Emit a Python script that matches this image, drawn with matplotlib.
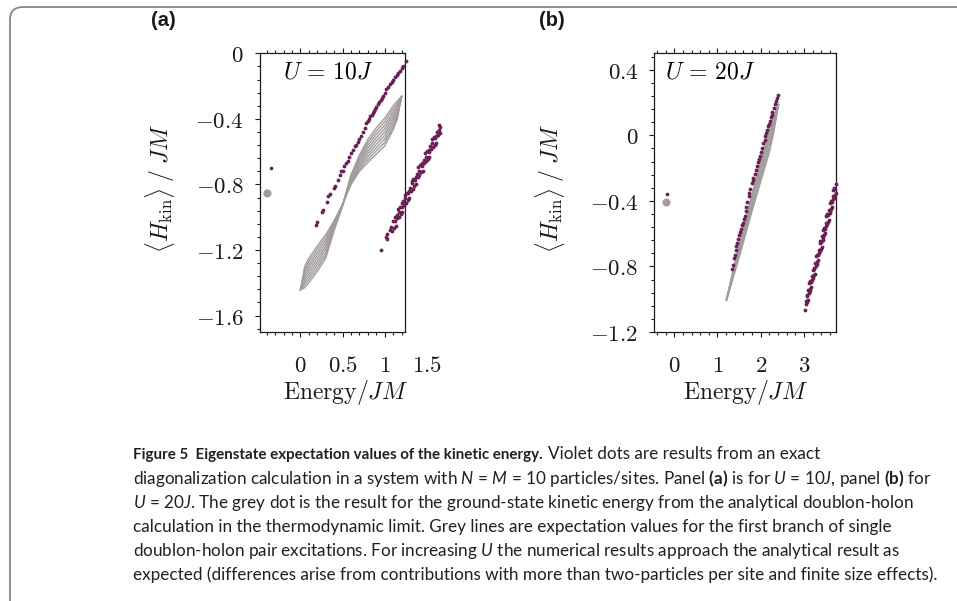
import matplotlib
matplotlib.use('Agg')
import matplotlib.pyplot as plt
from matplotlib import transforms
from matplotlib.patches import FancyBboxPatch
from matplotlib.ticker import MultipleLocator

plt.rcParams['mathtext.fontset'] = 'cm'
plt.rcParams['mathtext.rm'] = 'Lato'
plt.rcParams['mathtext.it'] = 'Lato:italic'
plt.rcParams['mathtext.bf'] = 'Lato:bold'

PURPLE = '#6a1f55'
GREY = '#a29c9c'
INK = '#1a1a1a'

# ---------------- Panel (a): U = 10J ----------------
grey_dot_a = (-0.40, -0.855)
small_dot_a = (-0.345, -0.70)

xg_a = [0, 0.05, 0.1, 0.2, 0.3, 0.4, 0.5, 0.6, 0.7, 0.8, 0.9, 1.0, 1.1, 1.15, 1.2]
ga0 = [-1.443, -1.30, -1.25, -1.175, -1.105, -1.02, -0.92, -0.80, -0.72, -0.665, -0.615, -0.565, -0.466, -0.40, -0.263]
ga1 = [-1.443, -1.316, -1.269, -1.194, -1.123, -1.028, -0.921, -0.793, -0.708, -0.648, -0.595, -0.544, -0.448, -0.386, -0.263]
ga2 = [-1.443, -1.333, -1.288, -1.214, -1.141, -1.035, -0.923, -0.785, -0.695, -0.63, -0.575, -0.523, -0.43, -0.373, -0.263]
ga3 = [-1.443, -1.349, -1.306, -1.233, -1.159, -1.043, -0.924, -0.778, -0.683, -0.613, -0.555, -0.501, -0.411, -0.359, -0.263]
ga4 = [-1.443, -1.365, -1.325, -1.253, -1.178, -1.05, -0.925, -0.77, -0.67, -0.595, -0.535, -0.48, -0.393, -0.345, -0.263]
ga5 = [-1.443, -1.381, -1.344, -1.272, -1.196, -1.058, -0.926, -0.763, -0.658, -0.578, -0.515, -0.459, -0.375, -0.331, -0.263]
ga6 = [-1.443, -1.398, -1.363, -1.291, -1.214, -1.065, -0.928, -0.755, -0.645, -0.56, -0.495, -0.438, -0.357, -0.318, -0.263]
ga7 = [-1.443, -1.414, -1.381, -1.311, -1.232, -1.073, -0.929, -0.748, -0.633, -0.543, -0.475, -0.416, -0.338, -0.304, -0.263]
ga8 = [-1.443, -1.43, -1.40, -1.33, -1.25, -1.08, -0.93, -0.74, -0.62, -0.525, -0.455, -0.395, -0.32, -0.29, -0.263]

pa1_x = [0.19, 0.20, 0.26, 0.27, 0.316, 0.328, 0.35, 0.40, 0.41, 0.45, 0.466, 0.486, 0.50, 0.52,
         0.545, 0.56, 0.58, 0.605, 0.62, 0.645, 0.66, 0.68, 0.70, 0.72, 0.74, 0.76, 0.78, 0.80,
         0.81, 0.83, 0.845, 0.86, 0.875, 0.89, 0.90, 0.92, 0.935, 0.95, 0.965, 0.98, 1.00, 1.02,
         1.04, 1.06, 1.08, 1.10, 1.12, 1.14, 1.16, 1.18, 1.20, 1.22, 1.257]
pa1_y = [-1.05, -1.03, -0.965, -0.955, -0.904, -0.873, -0.86, -0.82, -0.81, -0.77, -0.74, -0.72, -0.715, -0.69,
         -0.67, -0.655, -0.63, -0.61, -0.59, -0.567, -0.557, -0.54, -0.525, -0.507, -0.48, -0.455, -0.425, -0.41,
         -0.40, -0.385, -0.375, -0.364, -0.35, -0.34, -0.33, -0.31, -0.295, -0.285, -0.275, -0.263, -0.24, -0.22,
         -0.205, -0.19, -0.175, -0.16, -0.145, -0.133, -0.12, -0.105, -0.09, -0.079, -0.049]

pa2_x = [0.952, 1.02, 1.025, 1.03, 1.06, 1.075, 1.09,
         1.10, 1.11, 1.12, 1.13, 1.14, 1.15, 1.16, 1.17, 1.18, 1.19, 1.20, 1.21, 1.22, 1.23, 1.24, 1.25,
         1.26, 1.27, 1.28, 1.29, 1.30, 1.31, 1.32, 1.33, 1.34, 1.35, 1.36, 1.37, 1.38, 1.39, 1.40, 1.41,
         1.42, 1.43, 1.44, 1.45, 1.46, 1.47, 1.48, 1.49, 1.50, 1.51, 1.52, 1.53, 1.54, 1.55, 1.56, 1.57,
         1.58, 1.59, 1.60, 1.61, 1.62, 1.63, 1.64, 1.65, 1.66,
         1.125, 1.165, 1.205, 1.245, 1.285, 1.325, 1.365, 1.405, 1.445, 1.485, 1.525, 1.565, 1.605, 1.645]
pa2_y = [-1.199, -1.12, -1.135, -1.10, -1.075, -1.06, -1.085,
         -1.020, -1.064, -1.024, -1.053, -0.988, -1.007, -0.947, -0.996, -0.935, -0.980, -0.939, -0.969, -0.903, -0.923, -0.862, -0.911,
         -0.851, -0.895, -0.855, -0.884, -0.819, -0.838, -0.777, -0.827, -0.766, -0.811, -0.770, -0.800, -0.734, -0.753, -0.693, -0.742,
         -0.682, -0.726, -0.686, -0.715, -0.649, -0.669, -0.608, -0.658, -0.597, -0.642, -0.601, -0.630, -0.565, -0.584, -0.524, -0.573,
         -0.513, -0.557, -0.516, -0.546, -0.480, -0.500, -0.439, -0.489, -0.448,
         -1.000, -0.965, -0.915, -0.880, -0.840, -0.790, -0.755, -0.715, -0.670, -0.635, -0.590, -0.545, -0.505, -0.465]

# ---------------- Panel (b): U = 20J ----------------
grey_dot_b = (-0.19, -0.405)
small_dot_b = (-0.16, -0.357)

xg_b = [1.21, 1.4, 1.6, 1.8, 2.0, 2.2, 2.3, 2.41]
gb0 = [-1.003, -0.78, -0.57, -0.36, -0.16, 0.04, 0.12, 0.187]
gb1 = [-1.003, -0.795, -0.59, -0.385, -0.19, 0.005, 0.095, 0.187]
gb2 = [-1.003, -0.81, -0.61, -0.41, -0.22, -0.03, 0.07, 0.187]
gb3 = [-1.003, -0.822, -0.63, -0.435, -0.25, -0.065, 0.045, 0.187]
gb4 = [-1.003, -0.835, -0.65, -0.46, -0.28, -0.10, 0.02, 0.187]

pb1_x = [1.33, 1.35, 1.38, 1.40, 1.42, 1.44, 1.46, 1.48, 1.50, 1.52, 1.55, 1.57, 1.59, 1.61, 1.63, 1.65,
         1.67, 1.69, 1.72, 1.74, 1.76, 1.79, 1.81, 1.83, 1.86, 1.89, 1.91, 1.94, 1.96, 1.98, 2.01, 2.03,
         2.06, 2.09, 2.11, 2.13, 2.15, 2.17, 2.19, 2.21, 2.23, 2.25, 2.27, 2.30, 2.33, 2.35, 2.38, 2.41]
pb1_y = [-0.816, -0.79, -0.75, -0.73, -0.70, -0.678, -0.66, -0.63, -0.607, -0.59, -0.57, -0.55, -0.535, -0.51, -0.49, -0.46,
         -0.435, -0.41, -0.37, -0.35, -0.325, -0.29, -0.275, -0.26, -0.235, -0.21, -0.19, -0.165, -0.145, -0.128, -0.10, -0.08,
         -0.05, -0.026, -0.005, 0.015, 0.035, 0.055, 0.07, 0.09, 0.11, 0.126, 0.14, 0.167, 0.19, 0.21, 0.225, 0.244]

pb2_x = [3.02, 3.04, 3.05,
         3.06, 3.07, 3.08, 3.09, 3.10, 3.11, 3.12, 3.13, 3.14, 3.15, 3.16, 3.17, 3.18, 3.19, 3.20, 3.21,
         3.22, 3.23, 3.24, 3.25, 3.26, 3.27, 3.28, 3.29, 3.30, 3.31, 3.32, 3.33, 3.34, 3.35, 3.36, 3.37,
         3.38, 3.39, 3.40, 3.41, 3.42, 3.43, 3.44, 3.45, 3.46, 3.47, 3.48, 3.49, 3.50, 3.51, 3.52, 3.53,
         3.54, 3.55, 3.56, 3.57, 3.58, 3.59, 3.60, 3.61, 3.62, 3.63, 3.64, 3.65, 3.66, 3.67, 3.68, 3.69,
         3.70, 3.71, 3.72, 3.73, 3.74]
pb2_y = [-1.066, -1.03, -1.01,
         -0.973, -1.018, -0.978, -1.007, -0.942, -0.962, -0.902, -0.952, -0.891, -0.936, -0.896, -0.926, -0.861, -0.880, -0.820, -0.870,
         -0.810, -0.855, -0.814, -0.844, -0.779, -0.799, -0.739, -0.788, -0.728, -0.773, -0.733, -0.763, -0.697, -0.717, -0.657, -0.707,
         -0.647, -0.691, -0.651, -0.681, -0.616, -0.636, -0.575, -0.625, -0.565, -0.610, -0.570, -0.599, -0.534, -0.554, -0.494, -0.544,
         -0.483, -0.528, -0.488, -0.518, -0.453, -0.472, -0.412, -0.462, -0.402, -0.447, -0.406, -0.436, -0.371, -0.391, -0.331, -0.380,
         -0.320, -0.365, -0.325, -0.355, -0.299]

# ---------------- ticks / labels ----------------
xticks_a = [0, 0.5, 1]
xtlabels_a = ['$0$', '$0.5$', '$1$']
extra_xtick_a = (1.5, '$1.5$')
yticks_a = [0, -0.4, -0.8, -1.2, -1.6]
ytlabels_a = ['$0$', '$-0.4$', '$-0.8$', '$-1.2$', '$-1.6$']
xticks_b = [0, 1, 2, 3]
xtlabels_b = ['$0$', '$1$', '$2$', '$3$']
yticks_b = [0.4, 0, -0.4, -0.8, -1.2]
ytlabels_b = ['$0.4$', '$0$', '$-0.4$', '$-0.8$', '$-1.2$']

cap_title = 'Figure 5  Eigenstate expectation values of the kinetic energy.'
cap_lines = [
    'Violet dots are results from an exact',
    r'diagonalization calculation in a system with $\mathit{N}$ = $\mathit{M}$ = 10 particles/sites. Panel $\mathbf{(a)}$ is for $\mathit{U}$ = 10$\mathit{J}$, panel $\mathbf{(b)}$ for',
    r'$\mathit{U}$ = 20$\mathit{J}$. The grey dot is the result for the ground-state kinetic energy from the analytical doublon-holon',
    'calculation in the thermodynamic limit. Grey lines are expectation values for the first branch of single',
    r'doublon-holon pair excitations. For increasing $\mathit{U}$ the numerical results approach the analytical result as',
    'expected (differences arise from contributions with more than two-particles per site and finite size effects).',
]

W, H = 957, 601
fig = plt.figure(figsize=(W / 100, H / 100), dpi=100)


def rect(l, r, t, b):
    return [l / W, 1 - b / H, (r - l) / W, (b - t) / H]


axA = fig.add_axes(rect(260, 405, 53.3, 332))
axB = fig.add_axes(rect(654.3, 836, 53.3, 332))

TICK_FS = 16.5
LAB_FS = 17
XPAD = 12.5
MAJ = 3.6


def style(ax, xlim, ylim, xt, xtl, yt, ytl, xminor, yminor):
    ax.set_xlim(*xlim)
    ax.set_ylim(*ylim)
    ax.set_xticks(xt, labels=xtl)
    ax.set_yticks(yt, labels=ytl)
    ax.xaxis.set_minor_locator(MultipleLocator(xminor))
    ax.yaxis.set_minor_locator(MultipleLocator(yminor))
    ax.tick_params(which='both', direction='out', top=True, right=False,
                   width=0.8, labelsize=TICK_FS, colors=INK)
    ax.tick_params(which='major', length=MAJ)
    ax.tick_params(which='minor', length=2.2)
    ax.tick_params(axis='x', pad=XPAD)
    ax.tick_params(axis='y', pad=8)
    for s in ax.spines.values():
        s.set_linewidth(0.9)
        s.set_color(INK)


style(axA, (-0.48, 1.24), (-1.70, 0.0), xticks_a, xtlabels_a, yticks_a, ytlabels_a, 0.1, 0.08)
style(axB, (-0.46, 3.74), (-1.2, 0.5), xticks_b, xtlabels_b, yticks_b, ytlabels_b, 0.2, 0.08)

# grey analytical curves
for c in [ga0, ga1, ga2, ga3, ga4, ga5, ga6, ga7, ga8]:
    axA.plot(xg_a, c, color=GREY, lw=1.0, clip_on=False, zorder=2)
for c in [gb0, gb1, gb2, gb3, gb4]:
    axB.plot(xg_b, c, color=GREY, lw=1.2, clip_on=False, zorder=2)

# numerical dots
for ax, sets in [(axA, [(pa1_x, pa1_y), (pa2_x, pa2_y)]),
                 (axB, [(pb1_x, pb1_y), (pb2_x, pb2_y)])]:
    for xs, ys in sets:
        ax.scatter(xs, ys, s=7.5, color=PURPLE, linewidths=0, clip_on=False, zorder=3)

axA.scatter([grey_dot_a[0]], [grey_dot_a[1]], s=34, color=GREY, linewidths=0, zorder=3)
axA.scatter([small_dot_a[0]], [small_dot_a[1]], s=7, color=PURPLE, linewidths=0, zorder=3)
axB.scatter([grey_dot_b[0]], [grey_dot_b[1]], s=34, color=GREY, linewidths=0, zorder=3)
axB.scatter([small_dot_b[0]], [small_dot_b[1]], s=7, color=PURPLE, linewidths=0, zorder=3)

# extra tick label beyond the axis box in (a)
tr = transforms.blended_transform_factory(axA.transData, axA.transAxes)
tr = transforms.offset_copy(tr, fig=fig, y=-(MAJ + XPAD), units='points')
axA.text(extra_xtick_a[0], 0, extra_xtick_a[1], transform=tr, ha='center', va='top',
         fontsize=TICK_FS, color=INK, clip_on=False)

# axis labels
for ax, xc, yl_x in [(axA, 0.586, -0.575), (axB, 0.50, -0.482)]:
    ax.set_xlabel(r'$\mathrm{Energy}/JM$', fontsize=LAB_FS, color=INK)
    ax.xaxis.set_label_coords(xc, -0.165)
    ax.set_ylabel(r'$\langle H_{\mathrm{kin}}\rangle\;/\;JM$', fontsize=LAB_FS, color=INK)
    ax.yaxis.set_label_coords(yl_x, 0.515)

axA.text(0.469, 0.933, r'$U\,=\,10J$', transform=axA.transAxes, ha='center', va='center', fontsize=LAB_FS)
axB.text(0.307, 0.933, r'$U\,=\,20J$', transform=axB.transAxes, ha='center', va='center', fontsize=LAB_FS)

# panel letters
fig.text(163 / W, 1 - 20 / H, '(a)', fontsize=14.5, fontweight='bold', family='Liberation Sans',
         ha='center', va='center', color=INK)
fig.text(552 / W, 1 - 20 / H, '(b)', fontsize=14.5, fontweight='bold', family='Liberation Sans',
         ha='center', va='center', color=INK)

# caption
CAP_FS = 12.3
CAP_COL = '#231f20'
baselines = [459, 484, 508, 532, 556, 580]
title_txt = fig.text(133 / W, 1 - baselines[0] / H, cap_title, fontsize=10.9, family='Lato',
                     fontweight='bold', ha='left', va='baseline', color=CAP_COL)
renderer = fig.canvas.get_renderer()
title_end = title_txt.get_window_extent(renderer).x1
fig.text((title_end + 5) / W, 1 - baselines[0] / H, cap_lines[0], fontsize=CAP_FS, family='Lato',
         ha='left', va='baseline', color=CAP_COL)
for line, yb in zip(cap_lines[1:], baselines[1:]):
    fig.text(133 / W, 1 - yb / H, line, fontsize=CAP_FS, family='Lato', math_fontfamily='custom',
             ha='left', va='baseline', color=CAP_COL)

# frame around the figure (top and left edges with rounded corner)
frame = FancyBboxPatch((0.10, -1.0), 11.0, 5.94 + 1.0, boxstyle='round,pad=0,rounding_size=0.13',
                       transform=fig.dpi_scale_trans, fill=False, edgecolor='#858585', lw=1.3)
fig.add_artist(frame)

fig.savefig('out.png', dpi=100)
